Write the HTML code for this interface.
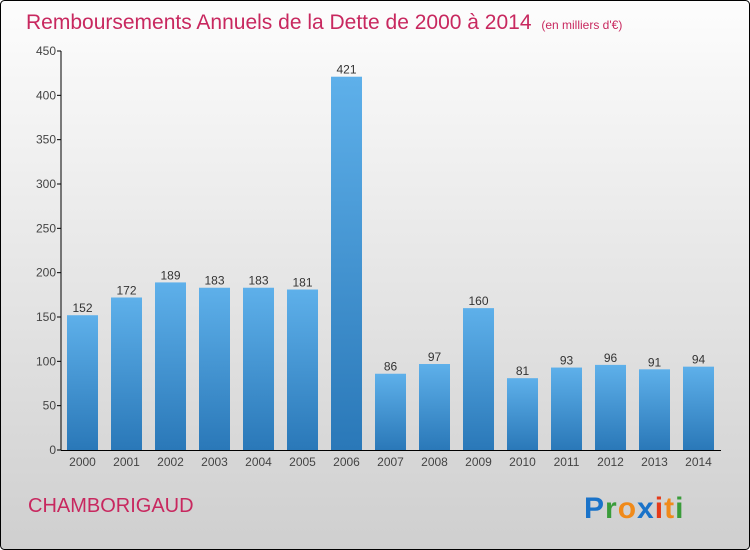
<!DOCTYPE html>
<html><head><meta charset="utf-8"><style>
body{margin:0;width:750px;height:550px;overflow:hidden}
svg{display:block;font-family:"Liberation Sans",sans-serif}
</style></head><body>
<svg width="750" height="550">
<defs>
<linearGradient id="bg" x1="0" y1="0" x2="0" y2="1"><stop offset="0" stop-color="#fdfdfd"/><stop offset="1" stop-color="#cfcfcf"/></linearGradient>
<linearGradient id="bar" x1="0" y1="0" x2="0" y2="1"><stop offset="0" stop-color="#5eb0ea"/><stop offset="1" stop-color="#2a78b8"/></linearGradient>
</defs>
<rect x="0.5" y="0.5" width="749" height="549" rx="4" fill="url(#bg)" stroke="#000"/>
<text x="26" y="29" font-size="21" fill="#c8285f">Remboursements Annuels de la Dette de 2000 à 2014 <tspan font-size="12" dx="4">(en milliers d'€)</tspan></text>
<g id="yaxis"></g>
<g id="bars"></g>
<g id="xaxis"></g>
<text x="28" y="512" font-size="20" fill="#c8285f">CHAMBORIGAUD</text>
<text x="584" y="518" font-size="30" font-weight="bold" letter-spacing="1"><tspan fill="#1a73c9">P</tspan><tspan fill="#3a9c3a">r</tspan><tspan fill="#f08a1a">o</tspan><tspan fill="#1a73c9">x</tspan><tspan fill="#e53a1a">i</tspan><tspan fill="#f08a1a">t</tspan><tspan fill="#3a9c3a">i</tspan></text>
</svg>
<script>
const years=["2000","2001","2002","2003","2004","2005","2006","2007","2008","2009","2010","2011","2012","2013","2014"];
const values=[152,172,189,183,183,181,421,86,97,160,81,93,96,91,94];
const yTicks=[0,50,100,150,200,250,300,350,400,450];
const NS="http://www.w3.org/2000/svg";
const x0=61,x1=721,yBase=450,yTop=51,yMax=450;
const y=v=>yBase-(yBase-yTop)*v/yMax;
const step=(x1-x0)/years.length;
const xc=i=>x0+step*(i+0.5)-0.5;
function mk(t,a,p,txt){const e=document.createElementNS(NS,t);for(const k in a)e.setAttribute(k,a[k]);if(txt!==undefined)e.textContent=txt;p.appendChild(e);return e;}
const ya=document.getElementById('yaxis'),ba=document.getElementById('bars'),xa=document.getElementById('xaxis');
let l=mk('line',{x1:x0,y1:yTop,x2:x0,y2:yBase,stroke:'#000'},ya);


yTicks.forEach(t=>{
 const tk=mk('line',{x1:x0-4,y1:y(t),x2:x0,y2:y(t),stroke:'#000'},ya);
 
 
 const lb=mk('text',{x:x0-5,y:y(t)+4,'text-anchor':'end','font-size':12,fill:'#444'},ya,t);
 
 
});
values.forEach((v,i)=>{
 const r=mk('rect',{x:xc(i)-15.5,y:y(v),width:31,height:yBase-y(v),fill:'url(#bar)'},ba);
 
 
 const t=mk('text',{x:xc(i),y:y(v)-3,'text-anchor':'middle','font-size':12,fill:'#333'},ba,v);
 
 
 const xl=mk('text',{x:xc(i),y:466,'text-anchor':'middle','font-size':12,fill:'#444'},xa,years[i]);
 
 
});
const xl=mk('line',{x1:x0,y1:yBase+0.5,x2:x1,y2:yBase+0.5,stroke:'#000'},xa);


</script>
</body></html>
